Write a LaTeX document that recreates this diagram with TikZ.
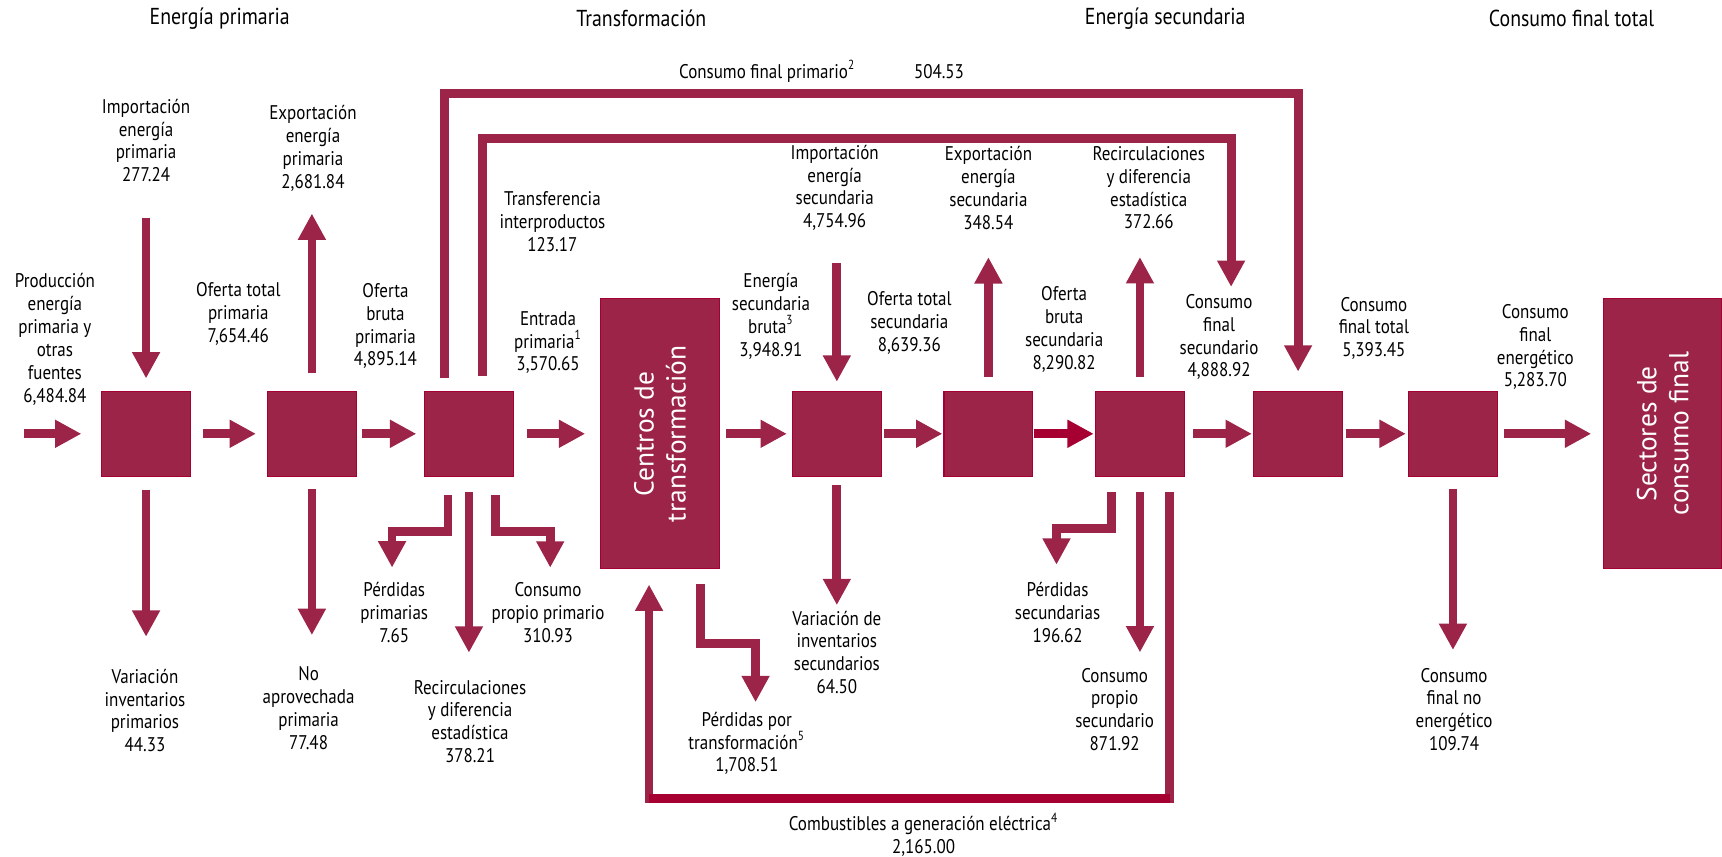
\documentclass[tikz,border=0pt]{standalone}
\usepackage{fontspec}
\setmainfont{PT Sans}[FakeStretch=0.86]
\newfontfamily\cajafont{PT Sans}
\usetikzlibrary{arrows.meta}
\definecolor{guinda}{RGB}{157,36,73}
\definecolor{rojo}{RGB}{166,0,50}

\begin{document}
\begin{tikzpicture}[x=0.5pt, y=-0.5pt,
  caja/.style={fill=guinda, draw=rojo, line width=0.5pt, minimum width=40.4pt, minimum height=38.5pt, inner sep=0pt},
  alta/.style={caja, minimum width=54pt, minimum height=122.8pt},
  blanco/.style={text=white, align=center, inner sep=0pt, rotate=90, font=\cajafont\fontsize{12.5}{14.5}\selectfont},
  flujo/.style={draw=guinda, line width=4pt, -{Triangle[length=12pt, width=12pt]}},
  etiq/.style={align=center, inner sep=0pt, font=\fontsize{9}{10.4}\selectfont},
  titulo/.style={inner sep=0pt, font=\fontsize{10.5}{12}\selectfont}]
\useasboundingbox (0,0) rectangle (1568,780);

% Titles
\node[titulo] (t-prim) at (200,17) {Energía primaria};
\node[titulo] (t-trans) at (584,17) {Transformación};
\node[titulo] (t-sec) at (1061,17) {Energía secundaria};
\node[titulo] (t-cft) at (1431,17) {Consumo final total};

% Boxes
\node[caja] (b1) at (133,395) {};
\node[caja] (b2) at (284,395) {};
\node[caja] (b3) at (427,395) {};
\node[alta] (ct) at (601,395) {};
\node[blanco] (ct-t) at (ct) {Centros de\\transformación};
\node[caja] (b4) at (762,395) {};
\node[caja] (b5) at (900,395) {};
\node[caja] (b6) at (1038,395) {};
\node[caja] (b7) at (1182,395) {};
\node[caja] (b8) at (1323,395) {};
\node[alta] (sc) at (1514,395) {};
\node[blanco] (sc-t) at (sc) {Sectores de\\consumo final};

% Labels above
\node[etiq] (l-prod) at (50,309) {Producción\\energía\\primaria y\\otras\\fuentes\\6,484.84};
\node[etiq] (l-imp) at (133,128) {Importación\\energía\\primaria\\277.24};
\node[etiq] (l-exp) at (285,135) {Exportación\\energía\\primaria\\2,681.84};
\node[etiq] (l-otp) at (217,286) {Oferta total\\primaria\\7,654.46};
\node[etiq] (l-obp) at (351,297) {Oferta\\bruta\\primaria\\4,895.14};
\node[etiq] (l-ti) at (503,202) {Transferencia\\interproductos\\123.17};
\node[etiq] (l-ep) at (499,312) {Entrada\\primaria\textsuperscript{1}\\3,570.65};
\node[etiq, anchor=west] (l-cfp) at (618,65) {Consumo final primario\textsuperscript{2}};
\node[etiq] (l-cfpv) at (855,65) {504.53};
\node[etiq] (l-imps) at (760,171) {Importación\\energía\\secundaria\\4,754.96};
\node[etiq] (l-esb) at (702,288) {Energía\\secundaria\\bruta\textsuperscript{3}\\3,948.91};
\node[etiq] (l-ots) at (828,294) {Oferta total\\secundaria\\8,639.36};
\node[etiq] (l-exps) at (900,171) {Exportación\\energía\\secundaria\\348.54};
\node[etiq] (l-obs) at (969,300) {Oferta\\bruta\\secundaria\\8,290.82};
\node[etiq] (l-rds) at (1046,171) {Recirculaciones\\y diferencia\\estadística\\372.66};
\node[etiq] (l-cfs) at (1110,307) {Consumo\\final\\secundario\\4,888.92};
\node[etiq] (l-cft) at (1251,299) {Consumo\\final total\\5,393.45};
\node[etiq] (l-cfe) at (1398,316) {Consumo\\final\\energético\\5,283.70};

% Labels below
\node[etiq] (l-vip) at (132,647) {Variación\\inventarios\\primarios\\44.33};
\node[etiq] (l-nap) at (281,645) {No\\aprovechada\\primaria\\77.48};
\node[etiq] (l-pp) at (359,558) {Pérdidas\\primarias\\7.65};
\node[etiq] (l-rdp) at (428,657) {Recirculaciones\\y diferencia\\estadística\\378.21};
\node[etiq] (l-cpp) at (499,558) {Consumo\\propio primario\\310.93};
\node[etiq] (l-ptr) at (680,677) {Pérdidas por\\transformación\textsuperscript{5}\\1,708.51};
\node[etiq] (l-vis) at (762,594) {Variación de\\inventarios\\secundarios\\64.50};
\node[etiq] (l-ps) at (963,558) {Pérdidas\\secundarias\\196.62};
\node[etiq] (l-cps) at (1015,646) {Consumo\\propio\\secundario\\871.92};
\node[etiq] (l-cfne) at (1324,646) {Consumo\\final no\\energético\\109.74};
\node[etiq] (l-cge) at (841,760) {Combustibles a generación eléctrica\textsuperscript{4}\\2,165.00};

% Main flow
\coordinate (ent) at (22,395);
\draw[flujo, shorten >=9pt] (ent) -- (b1);
\draw[flujo, shorten <=5.5pt, shorten >=5pt] (b1) -- (b2);
\draw[flujo, shorten <=2.5pt, shorten >=3.5pt] (b2) -- (b3);
\draw[flujo, shorten <=6pt, shorten >=6.8pt] (b3) -- (ct);
\draw[flujo, shorten <=2.8pt, shorten >=2.3pt] (ct) -- (b4);
\draw[flujo, shorten <=1pt, shorten >=0.5pt] (b4) -- (b5);
\draw[flujo, draw=rojo, shorten <=0.5pt, shorten >=0.6pt] (b5) -- (b6);
\draw[flujo, shorten <=3.8pt, shorten >=0.6pt] (b6) -- (b7);
\draw[flujo, shorten <=1.5pt, shorten >=1pt] (b7) -- (b8);
\draw[flujo, shorten <=2.9pt, shorten >=5.3pt] (b8) -- (sc);

% Inputs and outputs on top
\draw[flujo, shorten <=16pt, shorten >=5.7pt] (b1.north |- l-imp.south) -- (b1.north);
\draw[flujo, shorten <=8pt, shorten >=10pt] (b2.north) -- (b2.north |- l-exp.south);
\draw[flujo, shorten <=14.75pt, shorten >=4.2pt] (b4.north |- l-imps.south) -- (b4.north);
\draw[flujo, shorten <=6.5pt, shorten >=12.5pt] (b5.north) -- (b5.north |- l-exps.south);
\draw[flujo, shorten <=6.5pt, shorten >=12.5pt] (b6.north) -- (b6.north |- l-rds.south);

% Outputs below
\draw[flujo, shorten <=6.3pt, shorten >=14.5pt] (b1.south) -- (b1.south |- l-vip.north);
\draw[flujo, shorten <=5.5pt, shorten >=14.3pt] (b2.south) -- (b2.south |- l-nap.north);
\draw[flujo, shorten <=7pt, shorten >=12.3pt] (b3.south) -- (b3.south |- l-rdp.north);
\draw[flujo, shorten <=4pt, shorten >=2.4pt] (b4.south) -- (b4.south |- l-vis.north);
\draw[flujo, shorten <=7.2pt, shorten >=6.9pt] (b6.south) -- (b6.south |- l-cps.north);
\draw[flujo, shorten <=5.5pt, shorten >=8pt] (b8.south) -- (b8.south |- l-cfne.north);

% Bent outputs
\coordinate (pp-a) at (408,484);
\coordinate (pp-b) at (357,484);
\draw[flujo, shorten <=8.5pt, shorten >=6.7pt] (b3.south -| pp-a) -- (pp-a) -- (pp-b) -- (pp-b |- l-pp.north);
\coordinate (cpp-a) at (451,484);
\coordinate (cpp-b) at (501,484);
\draw[flujo, shorten <=8.5pt, shorten >=6.7pt] (b3.south -| cpp-a) -- (cpp-a) -- (cpp-b) -- (cpp-b |- l-cpp.north);
\coordinate (ptr-a) at (638,586);
\coordinate (ptr-b) at (688,586);
\draw[flujo, shorten <=6.8pt, shorten >=4.3pt] (ct.south -| ptr-a) -- (ptr-a) -- (ptr-b) -- (ptr-b |- l-ptr.north);
\coordinate (ps-a) at (1012,481);
\coordinate (ps-b) at (962,481);
\draw[flujo, shorten <=7.2pt, shorten >=8pt] (b6.south -| ps-a) -- (ps-a) -- (ps-b) -- (ps-b |- l-ps.north);

% Consumo final primario
\coordinate (cfp-a) at (405,85);
\coordinate (cfp-b) at (1182,85);
\draw[flujo, shorten <=5.7pt, shorten >=8.8pt] (b3.north -| cfp-a) -- (cfp-a) -- (cfp-b) -- (b7.north);

% Transferencia interproductos
\coordinate (ti-a) at (439,126);
\coordinate (ti-b) at (1121,126);
\draw[flujo, shorten <=6.8pt, shorten >=3.2pt] (b3.north -| ti-a) -- (ti-a) -- (ti-b) -- (ti-b |- l-cfs.north);

% Combustibles a generacion electrica
\coordinate (cge-a) at (1065,727);
\coordinate (cge-b) at (591,727);
\draw[flujo, shorten <=7.2pt, shorten >=7pt] (b6.south -| cge-a) -- (cge-a) -- (cge-b) -- (ct.south -| cge-b);
\draw[rojo, line width=4pt] (cge-a) -- (cge-b);
\end{tikzpicture}
\end{document}
